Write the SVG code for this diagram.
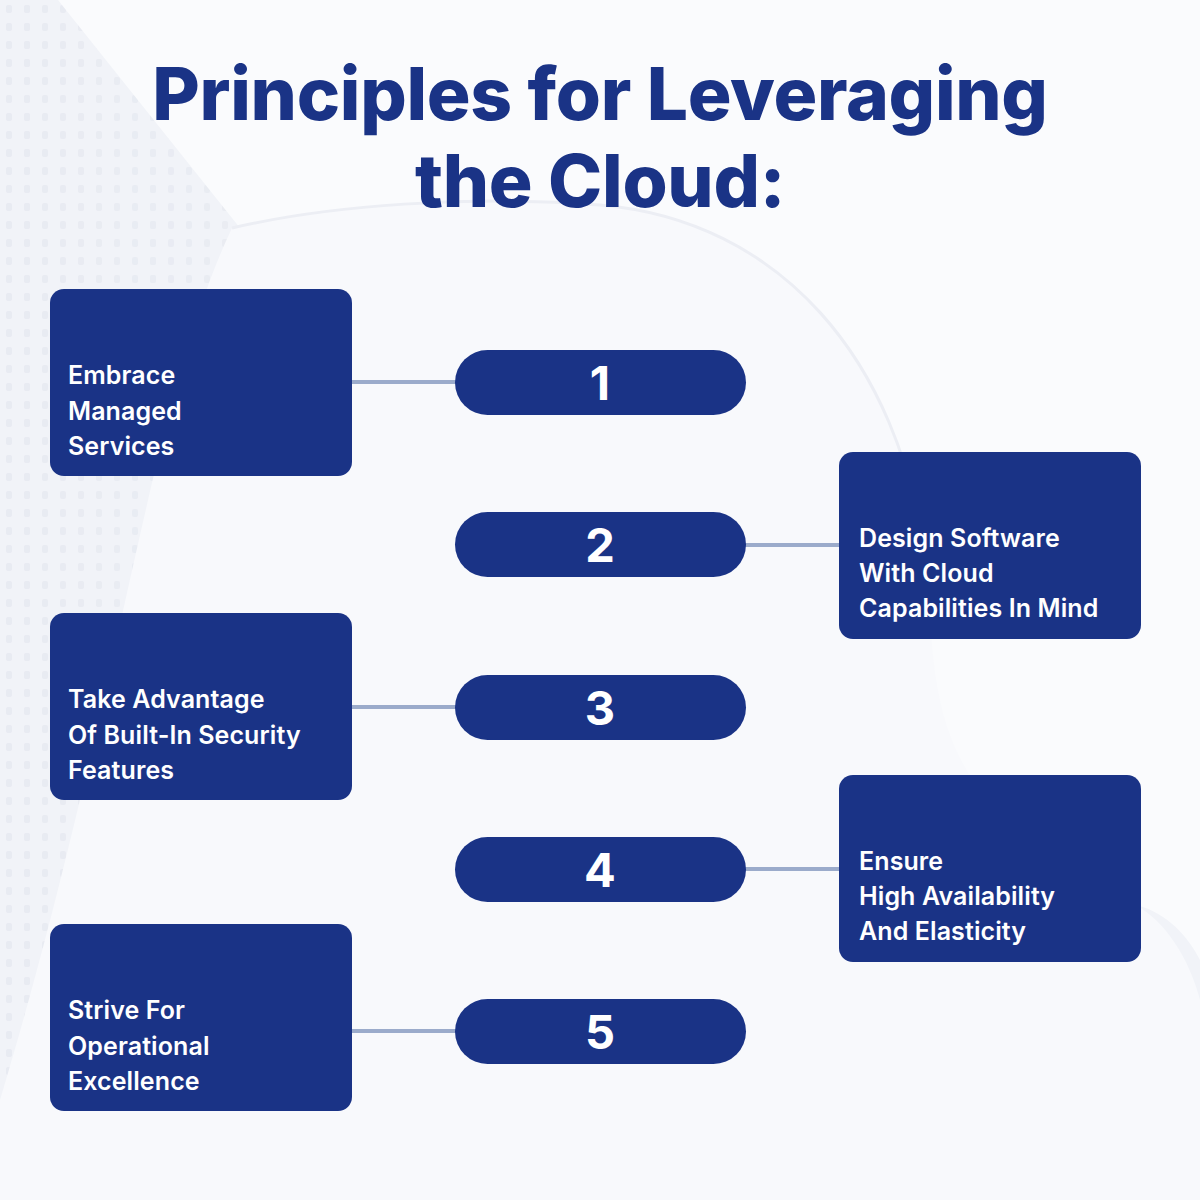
<svg xmlns="http://www.w3.org/2000/svg" width="1200" height="1200" viewBox="0 0 1200 1200">
<defs>
<style>
.box{fill:#1A3386}
.pill{fill:#1A3386}
.lbl{font-family:Inter,"Noto Sans","Liberation Sans",sans-serif;font-weight:600;font-size:25px;fill:#FFFFFF;letter-spacing:0.1px}
.num{font-family:Inter,"Noto Sans","Liberation Sans",sans-serif;font-weight:700;font-size:47px;fill:#FFFFFF;text-anchor:middle}
.title{font-family:Inter,"Noto Sans","Liberation Sans",sans-serif;font-weight:800;font-size:73px;fill:#1A3386;text-anchor:middle;letter-spacing:-0.3px}
.conn{stroke:#9BABCB;stroke-width:4;fill:none}
</style>
<pattern id="dots" width="18" height="18" patternUnits="userSpaceOnUse">
<rect x="6" y="5" width="6" height="8" rx="2" fill="#DDE1EA"/>
</pattern>
<linearGradient id="fade" x1="0" y1="0" x2="1" y2="0">
<stop offset="0" stop-color="#fff" stop-opacity="0.45"/>
<stop offset="1" stop-color="#fff" stop-opacity="0"/>
</linearGradient>
<mask id="dotmask">
<rect width="1200" height="1200" fill="url(#fade)"/>
</mask>
</defs>
<rect width="1200" height="1200" fill="#F1F3F8"/>
<g mask="url(#dotmask)"><rect x="0" y="0" width="600" height="1200" fill="url(#dots)"/></g>
<path d="M58,0 L1200,0 L1200,960 C1185,930 1160,910 1135,905 L900,720 L240,228 Z" fill="#FAFBFD"/>
<path d="M232,228 C330,205 470,195 600,205 C780,220 900,360 925,560 C940,680 910,800 1135,905 C1165,920 1190,960 1200,1000 L1200,1200 L0,1200 L0,1100 C120,700 150,400 232,228 Z" fill="#F8F9FC"/>
<path d="M232,228 C330,205 470,195 600,205 C780,220 900,360 925,560" fill="none" stroke="#ECEEF4" stroke-width="3"/>
<g id="title">
<text class="title" x="600" y="120">Principles for Leveraging</text>
<text class="title" x="600" y="207">the Cloud:</text>
</g>
<g id="connectors">
<line class="conn" x1="352" y1="382" x2="460" y2="382"/>
<line class="conn" x1="742" y1="545" x2="839" y2="545"/>
<line class="conn" x1="352" y1="707" x2="460" y2="707"/>
<line class="conn" x1="742" y1="869" x2="839" y2="869"/>
<line class="conn" x1="352" y1="1031" x2="460" y2="1031"/>
</g>
<g id="node-1">
<rect class="box" x="50" y="289" width="302" height="187" rx="14"/>
<text class="lbl" x="68" y="384">Embrace</text>
<text class="lbl" x="68" y="420">Managed</text>
<text class="lbl" x="68" y="455">Services</text>
</g>
<g id="pill-1"><rect class="pill" x="455" y="350" width="291" height="65" rx="32.5"/><text class="num" x="600" y="400">1</text></g>
<g id="node-2">
<rect class="box" x="839" y="452" width="302" height="187" rx="14"/>
<text class="lbl" x="859" y="547">Design Software</text>
<text class="lbl" x="859" y="582">With Cloud</text>
<text class="lbl" x="859" y="617">Capabilities In Mind</text>
</g>
<g id="pill-2"><rect class="pill" x="455" y="512" width="291" height="65" rx="32.5"/><text class="num" x="600" y="562">2</text></g>
<g id="node-3">
<rect class="box" x="50" y="613" width="302" height="187" rx="14"/>
<text class="lbl" x="68" y="708">Take Advantage</text>
<text class="lbl" x="68" y="744">Of Built-In Security</text>
<text class="lbl" x="68" y="779">Features</text>
</g>
<g id="pill-3"><rect class="pill" x="455" y="675" width="291" height="65" rx="32.5"/><text class="num" x="600" y="725">3</text></g>
<g id="node-4">
<rect class="box" x="839" y="775" width="302" height="187" rx="14"/>
<text class="lbl" x="859" y="870">Ensure</text>
<text class="lbl" x="859" y="905">High Availability</text>
<text class="lbl" x="859" y="940">And Elasticity</text>
</g>
<g id="pill-4"><rect class="pill" x="455" y="837" width="291" height="65" rx="32.5"/><text class="num" x="600" y="887">4</text></g>
<g id="node-5">
<rect class="box" x="50" y="924" width="302" height="187" rx="14"/>
<text class="lbl" x="68" y="1019">Strive For</text>
<text class="lbl" x="68" y="1055">Operational</text>
<text class="lbl" x="68" y="1090">Excellence</text>
</g>
<g id="pill-5"><rect class="pill" x="455" y="999" width="291" height="65" rx="32.5"/><text class="num" x="600" y="1049">5</text></g>
</svg>
